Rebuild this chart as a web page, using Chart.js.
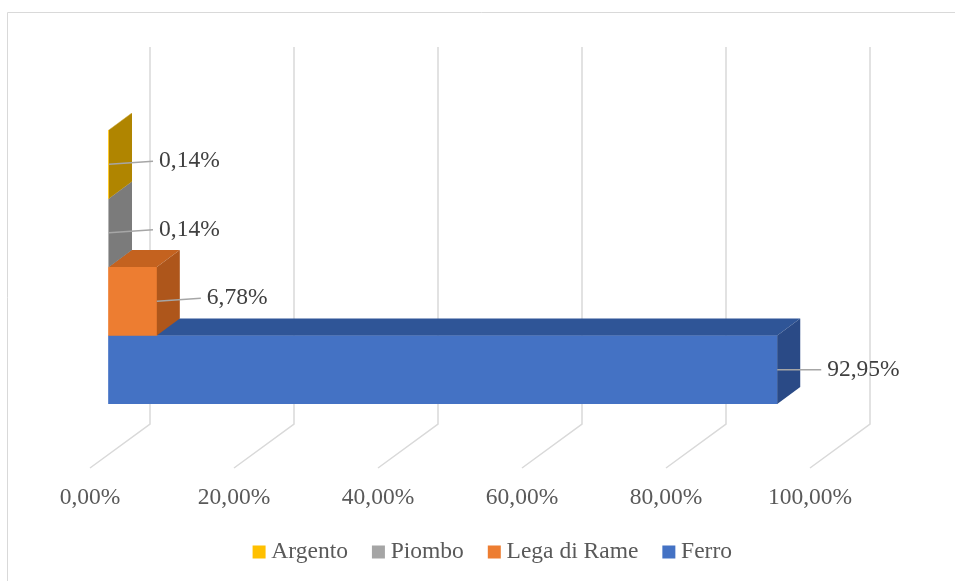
<!DOCTYPE html>
<html lang="it">
<head>
<meta charset="utf-8">
<title>Materiali</title>
<script src="https://cdn.jsdelivr.net/npm/chart.js@4.4.1/dist/chart.umd.min.js"></script>
<style>
  html, body { margin: 0; padding: 0; background: #fff; overflow: hidden; }
  #chart { display: block; }
</style>
</head>
<body>
<canvas id="chart" width="955" height="581"></canvas>
<script>
const materials = ["Argento", "Piombo", "Lega di Rame", "Ferro"];
const shares = [0.0014, 0.0014, 0.0678, 0.9295];
const axisTicks = [0, 0.2, 0.4, 0.6, 0.8, 1];

const frontColors = ["#ffc000", "#a5a5a5", "#ed7d31", "#4472c4"];
const topColors = ["#c79600", "#8a8a8a", "#c4621f", "#2f5597"];
const sideColors = ["#b08500", "#7b7b7b", "#ae561b", "#2a4a86"];

const FONT = "'Liberation Serif', 'Times New Roman', serif";
const FONT_SIZE = 23.5;
// depth of each bar and of the floor, in pixels
const DEPTH_X = 23, DEPTH_Y = -17;
const WALL_X = 42;
const FLOOR_X = -60, FLOOR_Y = 44;

const pct = (v) => (v * 100).toFixed(2).replace(".", ",") + "%";

const bars3d = {
  id: "bars3d",
  beforeDraw(chart) {
    const ctx = chart.ctx;
    ctx.save();
    ctx.strokeStyle = "#d9d9d9";
    ctx.lineWidth = 1;
    ctx.beginPath();
    ctx.moveTo(7.5, chart.height + 5);
    ctx.lineTo(7.5, 12.5);
    ctx.lineTo(chart.width + 5, 12.5);
    ctx.stroke();
    ctx.restore();
  },
  beforeDatasetsDraw(chart) {
    const { ctx, chartArea } = chart;
    const xs = chart.scales.x;
    const top = chartArea.top - 83;
    const bottom = chartArea.bottom + 20;
    ctx.save();
    ctx.strokeStyle = "#d9d9d9";
    ctx.lineWidth = 1.5;
    axisTicks.forEach((v) => {
      const px = Math.round(xs.getPixelForValue(v)) + WALL_X;
      ctx.beginPath();
      ctx.moveTo(px, top);
      ctx.lineTo(px, bottom);
      ctx.lineTo(px + FLOOR_X, bottom + FLOOR_Y);
      ctx.stroke();
    });
    ctx.restore();
  },
  afterDatasetDraw(chart, args) {
    const i = args.index;
    const { x, y, base, height } = args.meta.data[0].getProps(["x", "y", "base", "height"], true);
    const t = y - height / 2, b = y + height / 2;
    const ctx = chart.ctx;
    ctx.save();
    // top face
    ctx.fillStyle = topColors[i];
    ctx.beginPath();
    ctx.moveTo(base, t);
    ctx.lineTo(x, t);
    ctx.lineTo(x + DEPTH_X, t + DEPTH_Y);
    ctx.lineTo(base + DEPTH_X, t + DEPTH_Y);
    ctx.closePath();
    ctx.fill();
    // right face
    ctx.fillStyle = sideColors[i];
    ctx.beginPath();
    ctx.moveTo(x, t);
    ctx.lineTo(x, b);
    ctx.lineTo(x + DEPTH_X, b + DEPTH_Y);
    ctx.lineTo(x + DEPTH_X, t + DEPTH_Y);
    ctx.closePath();
    ctx.fill();
    ctx.restore();
  },
  afterDatasetsDraw(chart) {
    const ctx = chart.ctx;
    ctx.save();
    ctx.font = FONT_SIZE + "px " + FONT;
    ctx.textBaseline = "middle";
    ctx.textAlign = "left";
    chart.data.datasets.forEach((ds, i) => {
      const { x, y } = chart.getDatasetMeta(i).data[0].getProps(["x", "y"], true);
      const ey = i === 3 ? y : y - 3;
      ctx.strokeStyle = "#a6a6a6";
      ctx.lineWidth = 1.5;
      ctx.beginPath();
      ctx.moveTo(x, y);
      ctx.lineTo(x + 44, ey);
      ctx.stroke();
      ctx.fillStyle = "#404040";
      ctx.fillText(pct(ds.data[0]), x + 50, ey);
    });
    ctx.restore();
  }
};

new Chart(document.getElementById("chart"), {
  type: "bar",
  data: {
    labels: [""],
    datasets: materials.map((m, i) => ({
      label: m,
      data: [shares[i]],
      backgroundColor: frontColors[i],
      borderWidth: 0,
      categoryPercentage: 1,
      barPercentage: 1
    }))
  },
  options: {
    indexAxis: "y",
    responsive: false,
    animation: false,
    layout: { padding: { left: 108, right: 72.4, top: 130, bottom: 7.25 } },
    scales: {
      x: {
        type: "linear",
        min: 0,
        max: 1,
        // invisible tick marks push the labels down below the floor
        grid: {
          display: true,
          drawOnChartArea: false,
          drawTicks: true,
          tickLength: 80,
          color: "rgba(0,0,0,0)"
        },
        border: { display: false },
        ticks: {
          stepSize: 0.2,
          callback: (v) => pct(v),
          labelOffset: -18,
          padding: 0,
          color: "#595959",
          font: { family: FONT, size: FONT_SIZE }
        },
        afterFit: (s) => { s.height = 106.25; }
      },
      y: {
        type: "category",
        position: "right",
        grid: { display: false, drawTicks: false },
        border: { display: false },
        ticks: { display: false },
        afterFit: (s) => { s.width = 54.6; }
      }
    },
    plugins: {
      tooltip: { enabled: false },
      legend: {
        position: "bottom",
        labels: {
          usePointStyle: true,
          pointStyle: "rect",
          boxWidth: 1,
          boxHeight: 13,
          padding: 30,
          color: "#595959",
          font: { family: FONT, size: FONT_SIZE }
        }
      }
    }
  },
  plugins: [bars3d]
});
</script>
</body>
</html>
